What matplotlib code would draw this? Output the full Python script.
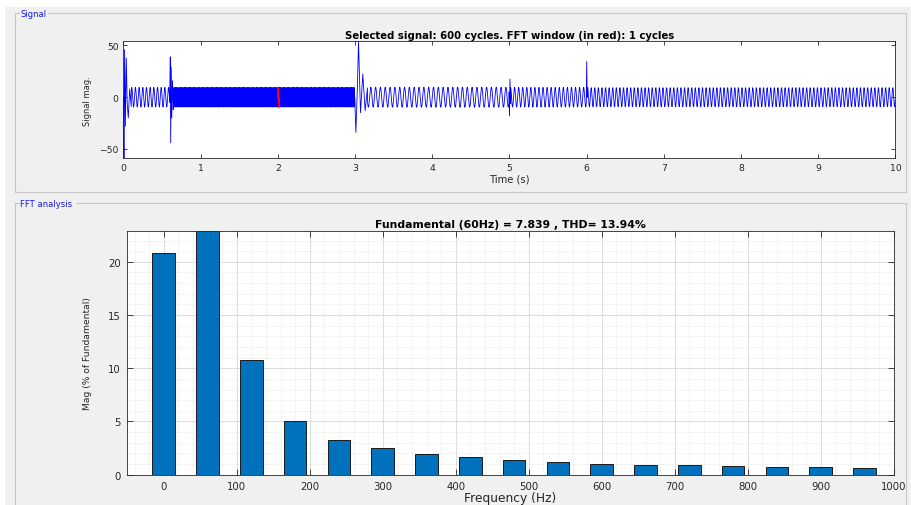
import numpy as np
import matplotlib
matplotlib.use("Agg")
import matplotlib.pyplot as plt
from matplotlib.patches import Rectangle
from matplotlib.lines import Line2D
from matplotlib.ticker import MultipleLocator

plt.rcParams['font.family'] = ['DejaVu Sans']

# ---------------- data: time signal ----------------
seg_bounds = [0.0, 0.6, 3.0, 5.0, 6.0, 10.0]     # s
seg_freq = [21.0, 60.0, 16.0, 19.0, 21.5]         # displayed cycles per second
seg_amp = [9.5, 9.5, 9.7, 9.5, 9.2]

# transient clusters (time s, value)
spike_t = [
    [0.0, 0.006, 0.014, 0.024, 0.036, 0.048, 0.062, 0.08, 0.1],
    [0.598, 0.606, 0.611, 0.618, 0.625, 0.635, 0.645],
    [2.995, 3.01, 3.03, 3.044, 3.07, 3.10, 3.13, 3.16],
    [4.995, 5.0, 5.006, 5.015],
    [5.995, 6.0, 6.006, 6.012],
]
spike_v = [
    [0.0, -59.0, 46.0, -28.0, 38.0, -6.0, -20.0, 8.0, -9.0],
    [-5.0, 39.0, -44.0, 29.0, -20.0, 16.0, -12.0],
    [0.0, -34.0, 10.0, 54.0, -15.0, 22.5, -13.0, 9.0],
    [5.0, -17.5, 17.5, -6.0],
    [0.0, 34.5, 0.0, 8.0],
]
fft_window = [2.0, 2.0 + 1 / 60]  # s (1 cycle, red)

# ---------------- data: FFT ----------------
harm_freq = [0, 60, 120, 180, 240, 300, 360, 420, 480, 540, 600,
             660, 720, 780, 840, 900, 960]
harm_mag = [20.79, 100.0, 10.77, 5.07, 3.29, 2.48, 1.94, 1.63, 1.34, 1.16,
            1.03, 0.94, 0.90, 0.78, 0.71, 0.68, 0.62]
fundamental_text = "Fundamental (60Hz) = 7.839 , THD= 13.94%"
signal_title = "Selected signal: 600 cycles. FFT window (in red): 1 cycles"

# ---------------- build signal ----------------
t = np.linspace(0, 10, 40001)
y = np.zeros_like(t)
for i in range(len(seg_freq)):
    m = (t >= seg_bounds[i]) & (t <= seg_bounds[i + 1])
    y[m] = seg_amp[i] * np.sin(2 * np.pi * seg_freq[i] * (t[m] - seg_bounds[i]))
for st, sv in zip(spike_t, spike_v):
    m = (t >= st[0]) & (t <= st[-1])
    keep = ~m
    t_new = np.concatenate([t[keep], np.array(st)])
    y_new = np.concatenate([y[keep], np.array(sv)])
    order = np.argsort(t_new, kind='stable')
    t, y = t_new[order], y_new[order]

# ---------------- figure ----------------
W, H = 912, 506
fig = plt.figure(figsize=(W / 100, H / 100), dpi=100)
fig.patch.set_facecolor('white')

bg = fig.add_axes([0, 0, 1, 1])
bg.set_xlim(0, W)
bg.set_ylim(H, 0)
bg.axis('off')
bg.add_patch(Rectangle((5, 8), W - 5, H - 8, facecolor='#f0f0f0', edgecolor='none'))

def panel(x0, y0, x1, y1, label, lw_label):
    c = '#c8c8c8'
    bg.add_line(Line2D([x0, x0 + 4], [y0, y0], color=c, lw=0.8))
    bg.add_line(Line2D([x0 + 6 + lw_label, x1], [y0, y0], color=c, lw=0.8))
    bg.add_line(Line2D([x0, x0], [y0, y1], color=c, lw=0.8))
    bg.add_line(Line2D([x1, x1], [y0, y1], color=c, lw=0.8))
    bg.add_line(Line2D([x0, x1], [y1, y1], color=c, lw=0.8))
    bg.text(x0 + 5, y0, label, color='#1a1adc', fontsize=6.1, va='center', ha='left')

panel(15.5, 14.3, 906, 192.7, "Signal", 27)
panel(15.5, 204.3, 906, 520, "FFT analysis", 56)

tick_color = '#262626'

# ---------------- top axes ----------------
ax1 = fig.add_axes([123.5 / W, 1 - 159.3 / H, (895.5 - 123.5) / W, (159.3 - 42.3) / H])
ax1.plot(t, y, color='#0000ff', lw=0.6)
mw = (t >= fft_window[0]) & (t <= fft_window[1])
ax1.plot(t[mw], y[mw], color='#ff0000', lw=1.2)
ax1.set_xlim(0, 10)
ax1.set_ylim(y.min(), y.max())
ax1.set_xticks(range(0, 11))
ax1.set_yticks([-50, 0, 50])
ax1.tick_params(direction='in', top=True, right=True, labelsize=6.7,
                colors=tick_color, length=3, width=0.6, pad=3.5)
for s in ax1.spines.values():
    s.set_color('#262626')
    s.set_linewidth(0.6)
ax1.set_xlabel("Time (s)", fontsize=7.2, color=tick_color, labelpad=1)
ax1.set_ylabel("Signal mag.", fontsize=6.0, color=tick_color, labelpad=5)
ax1.set_title(signal_title, fontsize=7.3, fontweight='bold', pad=2.5)

# ---------------- bottom axes ----------------
ax2 = fig.add_axes([127.3 / W, 1 - 475.7 / H, (893.7 - 127.3) / W, (475.7 - 232.3) / H])
ax2.set_axisbelow(True)
ax2.bar(harm_freq, harm_mag, width=31, color='#0072bd', edgecolor='#1a1a1a', linewidth=0.7)
ax2.set_xlim(-50, 1000)
ax2.set_ylim(0, 1.1 * max(m for f, m in zip(harm_freq, harm_mag) if f != 60))
ax2.xaxis.set_major_locator(MultipleLocator(100))
ax2.xaxis.set_minor_locator(MultipleLocator(20))
ax2.yaxis.set_major_locator(MultipleLocator(5))
ax2.yaxis.set_minor_locator(MultipleLocator(1))
ax2.grid(which='major', color='#dcdcdc', lw=0.7, ls='-')
ax2.grid(which='minor', color='#e2e2e2', lw=0.5, ls=(0, (1.5, 1.5)))
ax2.tick_params(which='major', direction='in', top=True, right=True, labelsize=7.3,
                colors=tick_color, length=4, width=0.6, pad=4.5)
ax2.tick_params(which='minor', length=0)
for s in ax2.spines.values():
    s.set_color('#262626')
    s.set_linewidth(0.6)
ax2.set_xlabel("Frequency (Hz)", fontsize=8.8, color=tick_color, labelpad=0)
ax2.set_ylabel("Mag (% of Fundamental)", fontsize=6.6, color=tick_color, labelpad=12)
ax2.set_title(fundamental_text, fontsize=7.8, fontweight='bold', pad=3)

fig.savefig("out.png", dpi=100, facecolor=fig.get_facecolor())
